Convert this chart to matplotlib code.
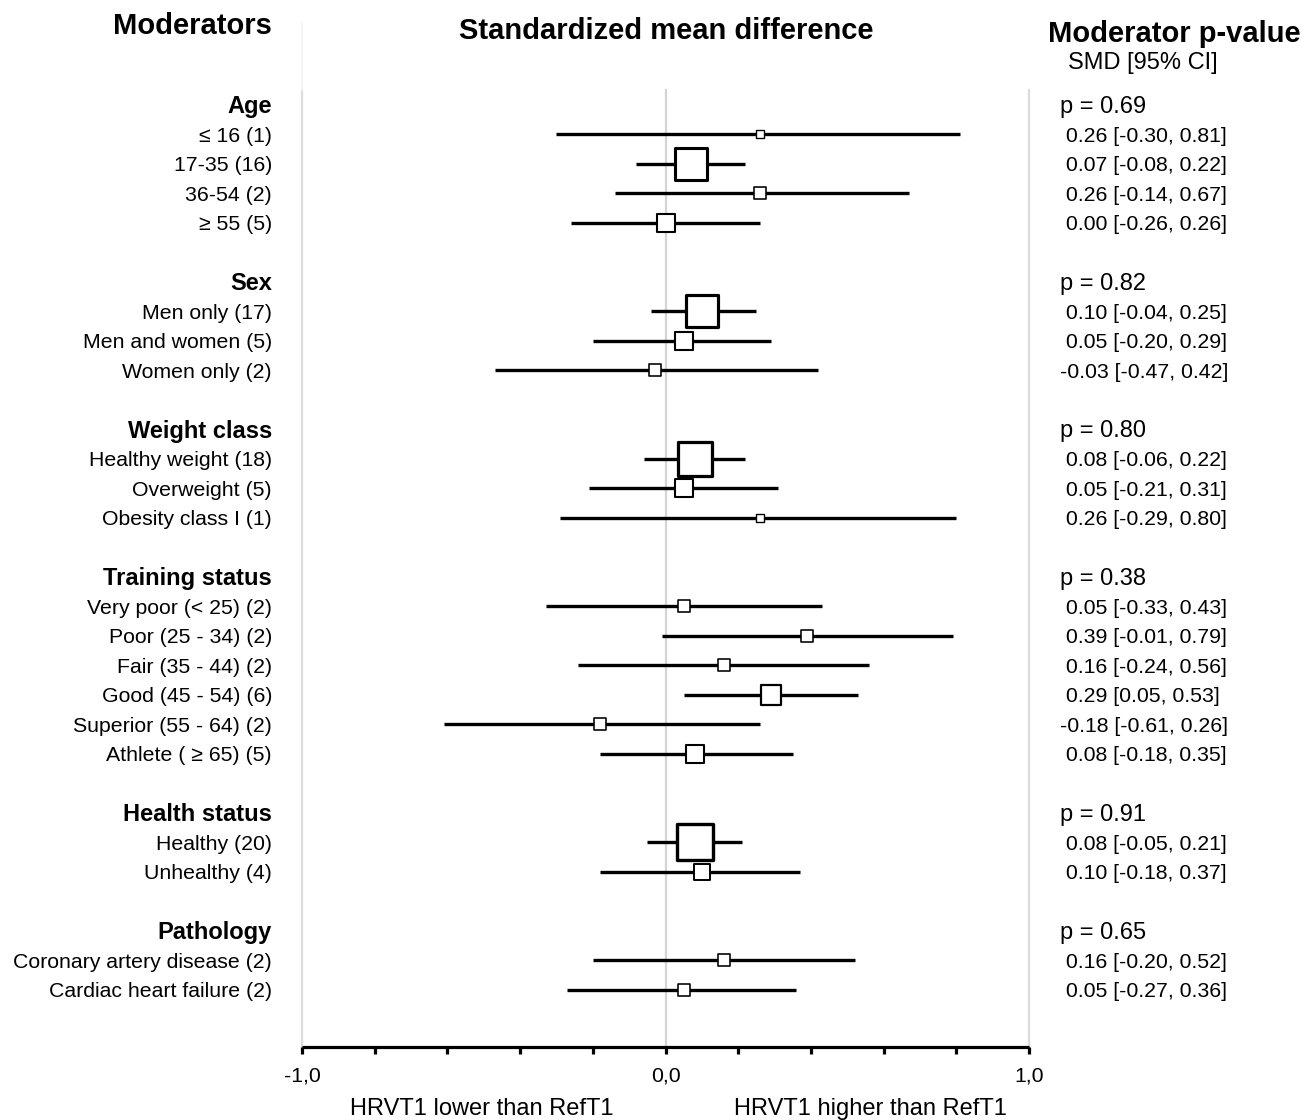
import numpy as np
import matplotlib
matplotlib.use('Agg')
import matplotlib.pyplot as plt
from matplotlib.markers import MarkerStyle
from matplotlib.lines import Line2D
import matplotlib.transforms as mtransforms

plt.rcParams['font.family'] = ['Liberation Sans', 'DejaVu Sans']

# Moderator groups, their p-values and how many subgroup rows each has.
group_names = ['Age', 'Sex', 'Weight class', 'Training status',
               'Health status', 'Pathology']
group_p = ['0.69', '0.82', '0.80', '0.38', '0.91', '0.65']
group_sizes = [4, 3, 3, 6, 2, 2]

# Subgroups (number of studies in brackets).
row_names = ['≤ 16', '17-35', '36-54', '≥ 55',
             'Men only', 'Men and women', 'Women only',
             'Healthy weight', 'Overweight', 'Obesity class I',
             'Very poor (< 25)', 'Poor (25 - 34)', 'Fair (35 - 44)',
             'Good (45 - 54)', 'Superior (55 - 64)', 'Athlete ( ≥ 65)',
             'Healthy', 'Unhealthy',
             'Coronary artery disease', 'Cardiac heart failure']
n_studies = [1, 16, 2, 5,
             17, 5, 2,
             18, 5, 1,
             2, 2, 2, 6, 2, 5,
             20, 4,
             2, 2]
smd = [0.26, 0.07, 0.26, 0.00,
       0.10, 0.05, -0.03,
       0.08, 0.05, 0.26,
       0.05, 0.39, 0.16, 0.29, -0.18, 0.08,
       0.08, 0.10,
       0.16, 0.05]
ci_lo = [-0.30, -0.08, -0.14, -0.26,
         -0.04, -0.20, -0.47,
         -0.06, -0.21, -0.29,
         -0.33, -0.01, -0.24, 0.05, -0.61, -0.18,
         -0.05, -0.18,
         -0.20, -0.27]
ci_hi = [0.81, 0.22, 0.67, 0.26,
         0.25, 0.29, 0.42,
         0.22, 0.31, 0.80,
         0.43, 0.79, 0.56, 0.53, 0.26, 0.35,
         0.21, 0.37,
         0.52, 0.36]

W, H = 1301, 1120
DPI = 100
ROW = 29.5  # px per row
TOP = 90    # px, top of plotting area
AXIS = 1047 # px, x axis line
TXT_DY = 0.07  # nudge text down a little, in rows

def fx(px):
    return px / W

def fy(py):
    return 1 - py / H

fig = plt.figure(figsize=(W / DPI, H / DPI), dpi=DPI)
ax = fig.add_axes([fx(302), fy(AXIS), fx(1029) - fx(302), (AXIS - TOP) / H])
ax.set_xlim(-1, 1)
ax.set_ylim((AXIS - TOP) / ROW - 0.5, -0.5)

for s in ['top', 'left', 'right']:
    ax.spines[s].set_visible(False)
ax.spines['bottom'].set_linewidth(2.3)
ax.spines['bottom'].set_capstyle('butt')
ax.set_yticks([])
ticks = np.round(np.arange(-1, 1.01, 0.2), 1)
ax.set_xticks(ticks)
ax.set_xticklabels(['-1,0' if t == -1 else '0,0' if t == 0 else
                    '1,0' if t == 1 else '' for t in ticks], fontsize=15.3)
ax.tick_params(axis='x', direction='out', length=5, width=2.3, pad=9)

for xv, c in [(-1, '#dcdcdc'), (0, '#d4d4d4'), (1, '#dcdcdc')]:
    ax.axvline(xv, color=c, lw=1.6, zorder=0, clip_on=False)
fig.add_artist(Line2D([fx(302), fx(302)], [fy(22), fy(TOP)],
                      color='#f3f3f3', lw=1.2))

lab = mtransforms.blended_transform_factory(fig.transFigure, ax.transData)

k = 0
r = 0
for g, name in enumerate(group_names):
    ax.text(fx(272), k + TXT_DY, name, transform=lab, ha='right',
            va='center', fontsize=17, fontweight='bold')
    ax.text(fx(1060), k + TXT_DY, 'p = %s' % group_p[g], transform=lab,
            ha='left', va='center', fontsize=17)
    for i in range(group_sizes[g]):
        k += 1
        ax.text(fx(272), k + TXT_DY, '%s (%d)' % (row_names[r], n_studies[r]),
                transform=lab, ha='right', va='center', fontsize=15.3)
        txt = '%.2f [%.2f, %.2f]' % (smd[r], ci_lo[r], ci_hi[r])
        if smd[r] >= 0:
            txt = ' ' + txt
        ax.text(fx(1060), k + TXT_DY, txt, transform=lab, ha='left',
                va='center', fontsize=15.3)
        ax.plot([ci_lo[r], ci_hi[r]], [k, k], color='black', lw=2.4,
                solid_capstyle='butt', zorder=2)
        side = 8 * np.sqrt(n_studies[r])  # px
        ax.plot(smd[r], k, linestyle='none',
                marker=MarkerStyle('s', joinstyle='round'),
                markersize=side * 0.72, markerfacecolor='white',
                markeredgecolor='black',
                markeredgewidth=(0.8 + side / 14) * 0.72, zorder=3)
        r += 1
    k += 2

fig.text(fx(272), fy(26), 'Moderators', ha='right', va='center',
         fontsize=21, fontweight='bold')
fig.text(fx(666), fy(31), 'Standardized mean difference', ha='center',
         va='center', fontsize=21, fontweight='bold')
fig.text(fx(1048), fy(34), 'Moderator p-value', ha='left', va='center',
         fontsize=21, fontweight='bold')
fig.text(fx(1068), fy(63), 'SMD [95% CI]', ha='left', va='center',
         fontsize=17)
fig.text(fx(482), fy(1109), 'HRVT1 lower than RefT1', ha='center',
         va='center', fontsize=17)
fig.text(fx(870), fy(1109), 'HRVT1 higher than RefT1', ha='center',
         va='center', fontsize=17)

fig.savefig('out.png', dpi=DPI)
